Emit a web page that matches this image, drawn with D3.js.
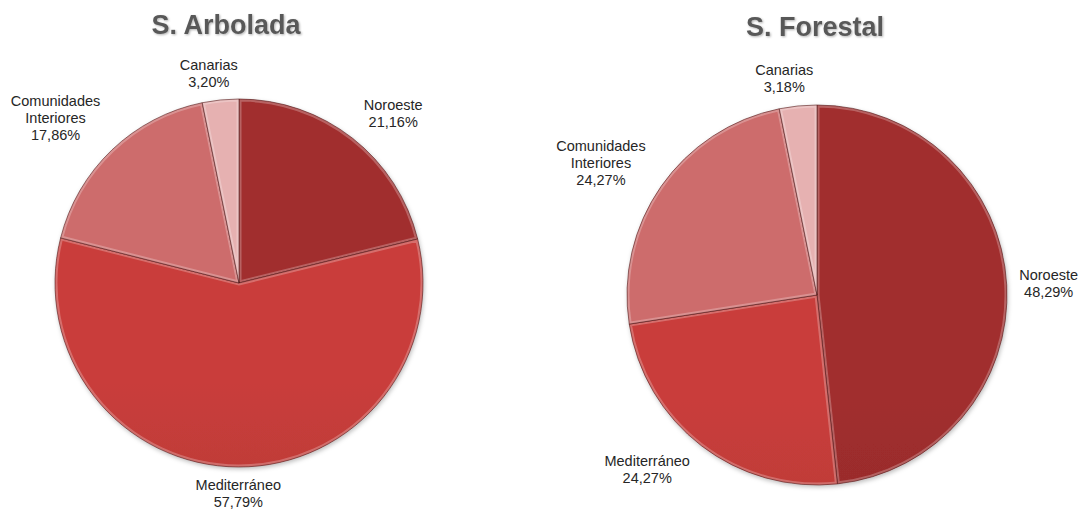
<!DOCTYPE html>
<html>
<head>
<meta charset="utf-8">
<script src="https://cdn.jsdelivr.net/npm/d3@7"></script>
<style>
  html, body { margin: 0; padding: 0; background: #ffffff; }
  svg { display: block; }
</style>
</head>
<body>
<svg id="chart" width="1080" height="509"></svg>
<script>
// ---- data ----
const categories = ["Noroeste", "Mediterráneo", "Comunidades Interiores", "Canarias"];
const arboladaValues = [21.16, 57.79, 17.86, 3.20];
const forestalValues = [48.29, 24.27, 24.27, 3.18];
const titles = ["S. Arbolada", "S. Forestal"];

// ---- styling / layout (not data) ----
const baseColors = ["#9a2c2c", "#c13b39", "#c46767", "#dcaaaa"];
const labelLines = {
  "Noroeste": ["Noroeste"],
  "Mediterráneo": ["Mediterráneo"],
  "Comunidades Interiores": ["Comunidades", "Interiores"],
  "Canarias": ["Canarias"]
};
const charts = [
  { title: titles[0], values: arboladaValues, cx: 239, cy: 283, r: 184, titleX: 226, titleY: 34,
    nudges: [[18, 4], [0, -10], [-31, -5], [-8, 10]] },
  { title: titles[1], values: forestalValues, cx: 817, cy: 295, r: 190, titleX: 815, titleY: 36,
    nudges: [[4, 1], [-31, -6], [-29, -2], [-10, 10]] }
];

const fmt = v => v.toFixed(2).replace(".", ",") + "%";
const svg = d3.select("#chart");
const defs = svg.append("defs");

// drop shadow
const sh = defs.append("filter").attr("id", "shadow").attr("x", "-10%").attr("y", "-10%").attr("width", "120%").attr("height", "120%");
sh.append("feDropShadow").attr("dx", 1).attr("dy", 2).attr("stdDeviation", 2)
  .attr("flood-color", "#000").attr("flood-opacity", 0.25);

const tsh = defs.append("filter").attr("id", "tshadow");
tsh.append("feDropShadow").attr("dx", 1).attr("dy", 1).attr("stdDeviation", 0.8)
  .attr("flood-color", "#000").attr("flood-opacity", 0.3);

const pie = d3.pie().sort(null).value(d => d.value);

charts.forEach((c, ci) => {
  const data = categories.map((cat, i) => ({ cat, value: c.values[i], i }));
  const arcs = pie(data);
  const arc = d3.arc().innerRadius(0).outerRadius(c.r);
  const labelArc = d3.arc().innerRadius(c.r * 1.2).outerRadius(c.r * 1.2);

  // gradients per slice, spanning the pie vertically
  baseColors.forEach((col, i) => {
    const g = defs.append("linearGradient")
      .attr("id", `g${ci}_${i}`)
      .attr("gradientUnits", "userSpaceOnUse")
      .attr("x1", 0).attr("y1", c.cy - c.r).attr("x2", 0).attr("y2", c.cy + c.r);
    g.append("stop").attr("offset", "0%").attr("stop-color", d3.color(col).brighter(0.12));
    g.append("stop").attr("offset", "100%").attr("stop-color", d3.color(col).darker(0.45));
  });

  const g = svg.append("g").attr("transform", `translate(${c.cx},${c.cy})`);

  const slices = g.append("g").attr("filter", "url(#shadow)");
  arcs.forEach((a, i) => {
    const cp = defs.append("clipPath").attr("id", `cp${ci}_${i}`);
    cp.append("path").attr("d", arc(a));
    const sg = slices.append("g");
    sg.append("path").attr("d", arc(a)).attr("fill", `url(#g${ci}_${i})`);
    // inner bevel highlight
    sg.append("path").attr("d", arc(a))
      .attr("clip-path", `url(#cp${ci}_${i})`)
      .attr("fill", "none")
      .attr("stroke", "rgba(255,255,255,0.25)")
      .attr("stroke-width", 5);
    sg.append("path").attr("d", arc(a))
      .attr("fill", "none")
      .attr("stroke", "rgba(70,15,15,0.55)")
      .attr("stroke-width", 1)
      .attr("stroke-linejoin", "round");
  });

  // labels
  arcs.forEach((a, i) => {
    const [x, y] = labelArc.centroid(a);
    const [nx, ny] = c.nudges[i];
    const lines = labelLines[a.data.cat].concat([fmt(a.data.value)]);
    const lh = 17;
    const y0 = y + ny - (lines.length - 1) * lh / 2;
    const t = g.append("text")
      .attr("text-anchor", "middle")
      .attr("font-family", "Liberation Sans, Arial, sans-serif")
      .attr("font-size", 14.5)
      .attr("fill", "#262626");
    lines.forEach((ln, k) => {
      t.append("tspan").attr("x", x + nx).attr("y", y0 + k * lh).attr("dy", "0.35em").text(ln);
    });
  });

  svg.append("text")
    .attr("x", c.titleX).attr("y", c.titleY)
    .attr("text-anchor", "middle")
    .attr("font-family", "Liberation Sans, Arial, sans-serif")
    .attr("font-weight", "bold")
    .attr("font-size", 27)
    .attr("fill", "#595959")
    .attr("filter", "url(#tshadow)")
    .text(c.title);
});
</script>
</body>
</html>
